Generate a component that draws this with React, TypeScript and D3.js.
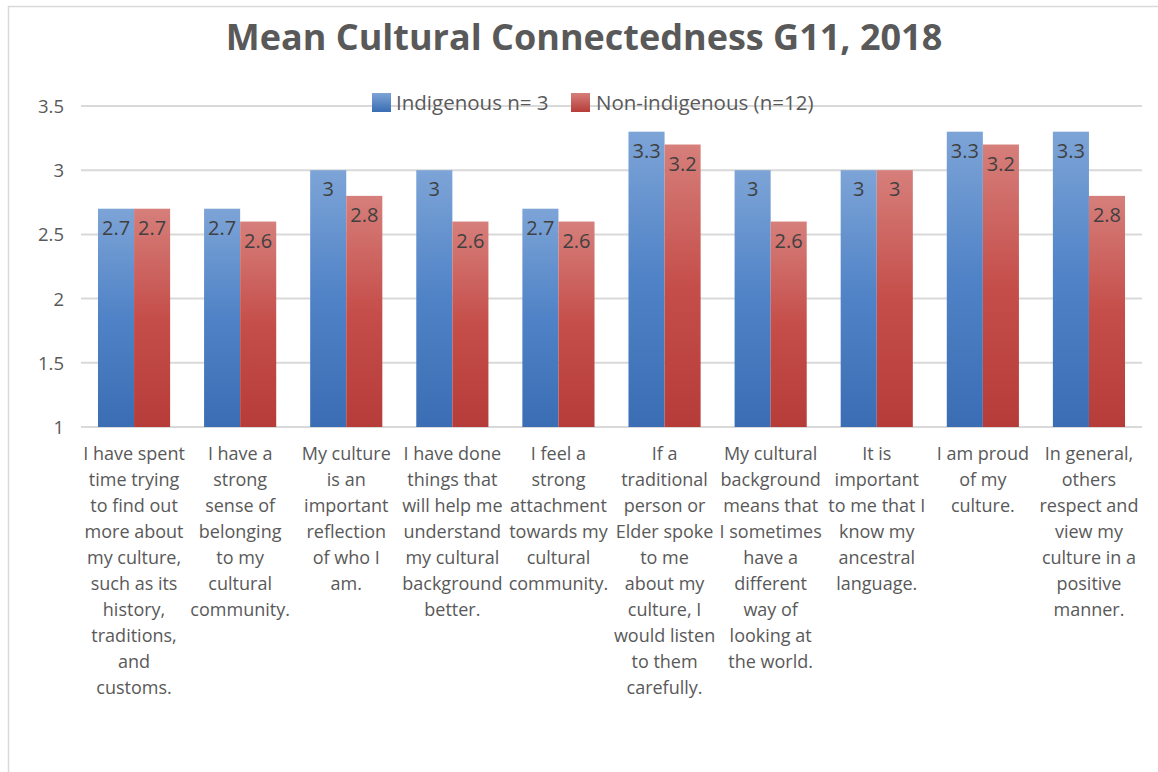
import React from "react";
import * as d3 from "d3";

const categories: string[] = [
  "I have spent\ntime trying\nto find out\nmore about\nmy culture,\nsuch as its\nhistory,\ntraditions,\nand\ncustoms.",
  "I have a\nstrong\nsense of\nbelonging\nto my\ncultural\ncommunity.",
  "My culture\nis an\nimportant\nreflection\nof who I\nam.",
  "I have done\nthings that\nwill help me\nunderstand\nmy cultural\nbackground\nbetter.",
  "I feel a\nstrong\nattachment\ntowards my\ncultural\ncommunity.",
  "If a\ntraditional\nperson or\nElder spoke\nto me\nabout my\nculture, I\nwould listen\nto them\ncarefully.",
  "My cultural\nbackground\nmeans that\nI sometimes\nhave a\ndifferent\nway of\nlooking at\nthe world.",
  "It is\nimportant\nto me that I\nknow my\nancestral\nlanguage.",
  "I am proud\nof my\nculture.",
  "In general,\nothers\nrespect and\nview my\nculture in a\npositive\nmanner.",
];
const seriesNames: string[] = ["Indigenous n= 3", "Non-indigenous (n=12)"];
const indigenous: number[] = [2.7, 2.7, 3, 3, 2.7, 3.3, 3, 3, 3.3, 3.3];
const nonIndigenous: number[] = [2.7, 2.6, 2.8, 2.6, 2.6, 3.2, 2.6, 3, 3.2, 2.8];
const yTicks: number[] = [1, 1.5, 2, 2.5, 3, 3.5];
const title = "Mean Cultural Connectedness G11, 2018";

const W = 1158;
const H = 772;
const FONT = "'Open Sans', 'Liberation Sans', sans-serif";
const TXT = "#595959";

export default function App() {
  const left = 81, right = 1142, top = 106, bottom = 427;
  const y = d3.scaleLinear().domain([1, 3.5]).range([bottom, top]);
  const x0 = d3.scaleBand<number>().domain(d3.range(categories.length)).range([left, right]).paddingInner(0.32).paddingOuter(0.16);
  const x1 = d3.scaleBand<number>().domain([0, 1]).range([0, x0.bandwidth()]);
  const series = [indigenous, nonIndigenous];
  const grads = ["gBlue", "gRed"];
  const fmt = (v: number) => d3.format("~g")(v);

  return (
    <svg width={W} height={H} style={{ position: "absolute", left: 0, top: 0, background: "#fff" }}>
      <defs>
        <linearGradient id="gBlue" x1="0" y1="0" x2="0" y2="1">
          <stop offset="0" stopColor="#7DA4D7" />
          <stop offset="0.5" stopColor="#4F82C6" />
          <stop offset="1" stopColor="#3A6DB3" />
        </linearGradient>
        <linearGradient id="gRed" x1="0" y1="0" x2="0" y2="1">
          <stop offset="0" stopColor="#D67F7B" />
          <stop offset="0.5" stopColor="#C54E4A" />
          <stop offset="1" stopColor="#B63C39" />
        </linearGradient>
        <linearGradient id="lBlue" x1="0" y1="0" x2="0" y2="1">
          <stop offset="0" stopColor="#7DA4D7" />
          <stop offset="1" stopColor="#3A6DB3" />
        </linearGradient>
        <linearGradient id="lRed" x1="0" y1="0" x2="0" y2="1">
          <stop offset="0" stopColor="#D67F7B" />
          <stop offset="1" stopColor="#B63C39" />
        </linearGradient>
      </defs>
      <rect x={8.5} y={6.5} width={1170} height={790} fill="#fff" stroke="#D9D9D9" strokeWidth={1.5} />
      <text x={584} y={50} textAnchor="middle" fontFamily={FONT} fontWeight="bold" fontSize={36} fill={TXT}>{title}</text>

      {yTicks.map((t) => (
        <g key={t}>
          <line x1={left} x2={right} y1={y(t)} y2={y(t)} stroke="#D9D9D9" strokeWidth={2} />
          <text x={64} y={y(t) + 7} textAnchor="end" fontFamily={FONT} fontSize={18.5} fill={TXT}>{fmt(t)}</text>
        </g>
      ))}

      {/* legend */}
      <g fontFamily={FONT} fontSize={20.5} fill={TXT}>
        <rect x={372} y={93} width={19} height={19} fill="url(#lBlue)" />
        <text x={396} y={110}>{seriesNames[0]}</text>
        <rect x={571} y={93} width={19} height={19} fill="url(#lRed)" />
        <text x={596} y={110}>{seriesNames[1]}</text>
      </g>

      {categories.map((c, i) => (
        <g key={i} transform={`translate(${x0(i)},0)`}>
          {series.map((s, k) => (
            <g key={k}>
              <rect x={x1(k)} y={y(s[i])} width={x1.bandwidth()} height={bottom - y(s[i])} fill={`url(#${grads[k]})`} />
              <text x={(x1(k) as number) + x1.bandwidth() / 2} y={y(s[i]) + 26} textAnchor="middle" fontFamily={FONT} fontSize={20} fill="#404040">{fmt(s[i])}</text>
            </g>
          ))}
        </g>
      ))}

      {categories.map((c, i) => (
        <text key={i} textAnchor="middle" fontFamily={FONT} fontSize={18} fill={TXT}>
          {c.split("\n").map((ln, j) => (
            <tspan key={j} x={(x0(i) as number) + x0.bandwidth() / 2} y={460 + j * 26}>{ln}</tspan>
          ))}
        </text>
      ))}
    </svg>
  );
}
